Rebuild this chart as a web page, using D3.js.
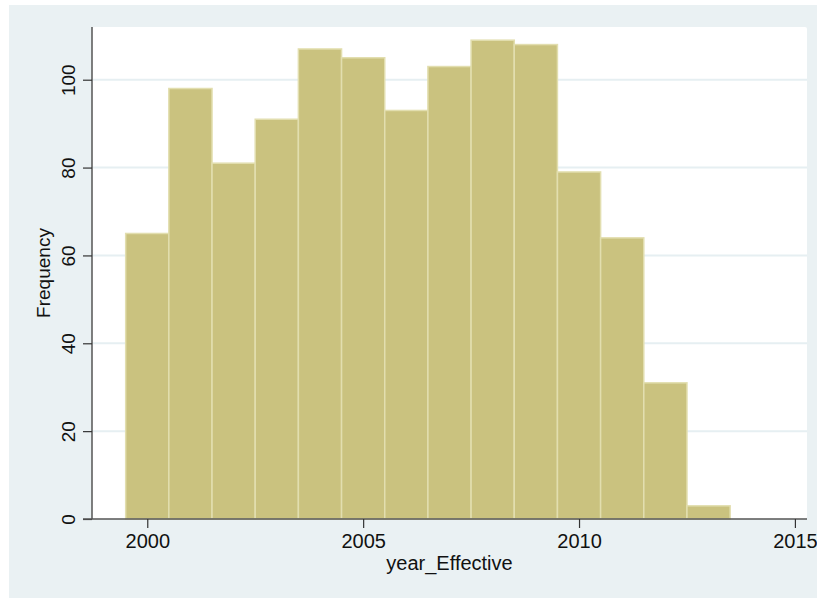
<!DOCTYPE html>
<html>
<head>
<meta charset="utf-8">
<script src="https://cdn.jsdelivr.net/npm/d3@7"></script>
<style>
  html, body { margin: 0; padding: 0; background: #ffffff; }
  svg { display: block; }
  text { font-family: Arial, "Liberation Sans", sans-serif; fill: #111; }
</style>
</head>
<body>
<svg id="chart" width="817" height="598"></svg>
<script>
// Histogram of year_Effective: one bin per year, bins centred on the year
const years = [2000, 2001, 2002, 2003, 2004, 2005, 2006, 2007, 2008, 2009, 2010, 2011, 2012, 2013];
const frequency = [65, 98, 81, 91, 107, 105, 93, 103, 109, 108, 79, 64, 31, 3];
const xTicks = [2000, 2005, 2010, 2015];
const yTicks = [0, 20, 40, 60, 80, 100];

const svg = d3.select("#chart");
const W = 817, H = 598;
const plot = { left: 92, right: 807, top: 27, bottom: 519 };

// Outer graph region
svg.append("rect")
  .attr("x", 9).attr("y", 5)
  .attr("width", W - 9).attr("height", H - 5)
  .attr("fill", "#eaf1f3");

// Inner plot region
svg.append("rect")
  .attr("x", plot.left).attr("y", plot.top)
  .attr("width", plot.right - plot.left).attr("height", plot.bottom - plot.top)
  .attr("rx", 2)
  .attr("fill", "#ffffff");

const x = d3.scaleLinear().domain([1998.72, 2015.28]).range([plot.left, plot.right]);
const y = d3.scaleLinear().domain([0, 112]).range([plot.bottom, plot.top]);

// Horizontal grid lines
svg.append("g")
  .selectAll("line")
  .data(yTicks.filter(d => d > 0))
  .join("line")
  .attr("x1", plot.left).attr("x2", plot.right)
  .attr("y1", d => y(d)).attr("y2", d => y(d))
  .attr("stroke", "#e6eff2")
  .attr("stroke-width", 2);

// Bars
svg.append("g")
  .selectAll("rect")
  .data(years.map((yr, i) => ({ yr, n: frequency[i] })))
  .join("rect")
  .attr("x", d => x(d.yr - 0.5))
  .attr("width", d => x(d.yr + 0.5) - x(d.yr - 0.5))
  .attr("y", d => y(d.n))
  .attr("height", d => y(0) - y(d.n))
  .attr("fill", "#cac27f")
  .attr("stroke", "#e2deaf")
  .attr("stroke-width", 1.5);

// Y axis
const yAxis = svg.append("g")
  .attr("transform", `translate(${plot.left},0)`)
  .call(d3.axisLeft(y).tickValues(yTicks).tickSize(9).tickSizeOuter(0).tickPadding(4));
yAxis.select(".domain").attr("stroke", "#555").attr("stroke-width", 1.5)
  .attr("d", `M0,${plot.top}V${plot.bottom}`);
yAxis.selectAll(".tick line").attr("stroke", "#333").attr("stroke-width", 1.2);
yAxis.selectAll(".tick text")
  .attr("font-size", 19)
  .attr("fill", "#111")
  .attr("text-anchor", "middle")
  .attr("x", 0).attr("dy", 0)
  .attr("transform", "translate(-17.5,0) rotate(-90)");

// X axis
const xAxis = svg.append("g")
  .attr("transform", `translate(0,${plot.bottom})`)
  .call(d3.axisBottom(x).tickValues(xTicks).tickFormat(d3.format("d")).tickSize(9).tickSizeOuter(0).tickPadding(6));
xAxis.select(".domain").attr("stroke", "#555").attr("stroke-width", 1.5)
  .attr("d", `M${plot.left - 9},0H${plot.right}`);
xAxis.selectAll(".tick line").attr("stroke", "#333").attr("stroke-width", 1.2);
xAxis.selectAll(".tick text").attr("font-size", 20).attr("fill", "#111");

// Axis titles
svg.append("text")
  .attr("x", (plot.left + plot.right) / 2)
  .attr("y", 570)
  .attr("text-anchor", "middle")
  .attr("font-size", 20)
  .text("year_Effective");

svg.append("text")
  .attr("transform", `translate(50,${(plot.top + plot.bottom) / 2}) rotate(-90)`)
  .attr("text-anchor", "middle")
  .attr("font-size", 19)
  .text("Frequency");
</script>
</body>
</html>
